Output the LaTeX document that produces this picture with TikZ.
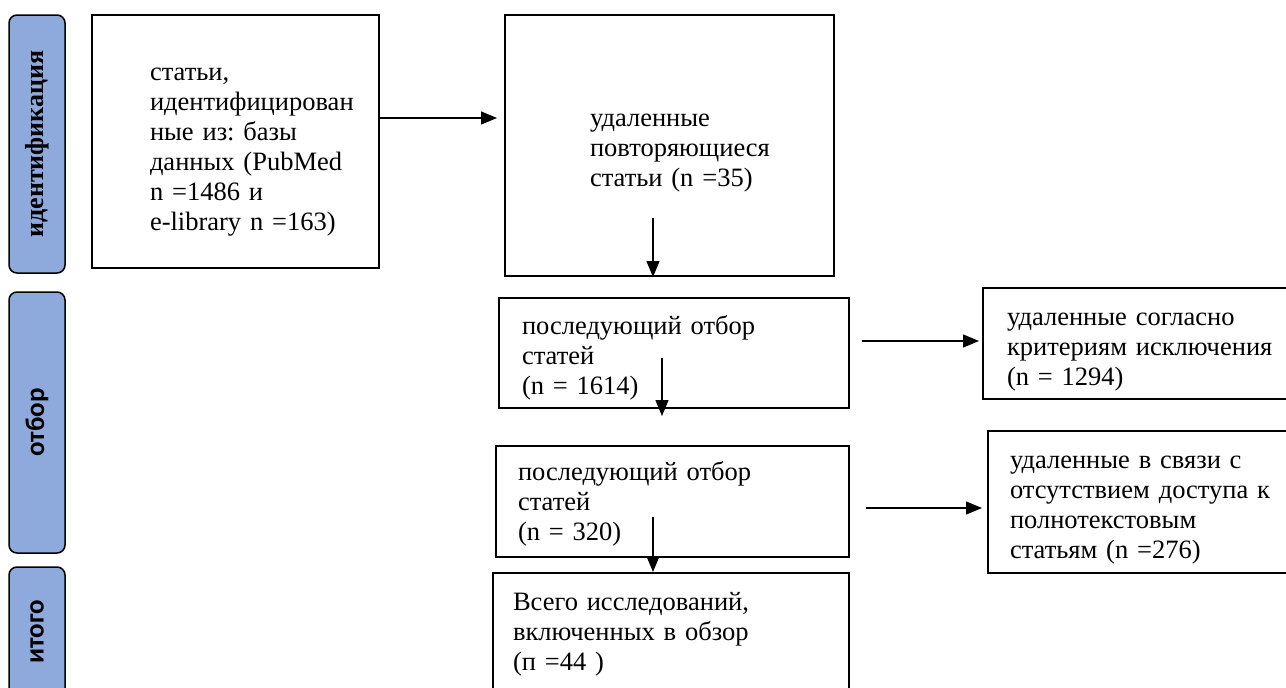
\documentclass[tikz,border=0pt]{standalone}
\usepackage{fontspec}
\setmainfont{Liberation Serif}
\newfontfamily\stageserif{Liberation Serif}
\newfontfamily\calib{Carlito}
\usetikzlibrary{arrows.meta}
\frenchspacing

\definecolor{stageblue}{HTML}{8EA9DB}
\newcommand{\lift}[1]{\rule{0pt}{#1pt}}

\begin{document}
\begin{tikzpicture}[x=1pt,y=-1pt,>={Triangle[length=16pt,width=13pt]},
  stage/.style={draw,line width=1.5pt,rounded corners=8pt,fill=stageblue,rotate=90,minimum height=56pt,inner sep=0pt},
  flowbox/.style={draw,line width=2pt,align=left,inner sep=0pt,font=\fontsize{26.5}{30}\selectfont},
  arrow/.style={->,line width=1.3pt}]
\useasboundingbox (0,0) rectangle (1286,688);
\clip (0,0) rectangle (1286,688);
% stage labels
\node[stage,minimum width=258pt,font=\stageserif\fontsize{26}{30}\selectfont\bfseries] (ident) at (37,144) {идентификация};
\node[stage,minimum width=261pt,font=\calib\fontsize{27}{30}\selectfont\bfseries] (select) at (37,422.5) {отбор};
\node[stage,minimum width=130pt,font=\calib\fontsize{27}{30}\selectfont\bfseries] (total) at (37,632) {итого};
% boxes
\node[flowbox,minimum width=287pt,minimum height=253pt,text width=171pt] (found) at (235.5,141.5) {\lift{34}статьи,\\идентифицирован\\ные~из:~базы\\данных~(PubMed\\n~=1486~и\\\mbox{e-library}~n~=163)};
\node[flowbox,minimum width=329pt,minimum height=261pt,text width=159pt] (dupl) at (669.5,145.5) {\lift{28}удаленные\\повторяющиеся\\статьи~(n~=35)};
\node[flowbox,minimum width=350pt,minimum height=110pt,text width=304pt] (screen1) at (674,353) {\lift{28}последующий~отбор\\статей\\(n~=~1614)};
\node[flowbox,minimum width=353pt,minimum height=111pt,text width=309pt] (screen2) at (672.5,501.5) {\lift{24}последующий~отбор\\статей\\(n~=~320)};
\node[flowbox,minimum width=356pt,minimum height=122pt,text width=316pt] (incl) at (671,634) {Всего~исследований,\\включенных~в~обзор\\(п~=44~)};
\node[flowbox,minimum width=307pt,minimum height=111pt,text width=259pt] (excl1) at (1136.5,343.5) {\lift{30}удаленные~согласно\\критериям~исключения\\(n~=~1294)};
\node[flowbox,minimum width=302pt,minimum height=142pt,text width=258pt] (excl2) at (1139,502) {\lift{28}удаленные~в~связи~с\\отсутствием~доступа~к\\полнотекстовым\\статьям~(n~=276)};
% arrows
\coordinate (a1) at (497,118);
\draw[arrow] (found.east |- a1) -- (a1);
\coordinate (d1) at (653,218);
\draw[arrow] (d1) -- (d1 |- dupl.south);
\coordinate (d2) at (662,358);
\draw[arrow] (d2) -- ([yshift=-7]d2 |- screen1.south);
\coordinate (d3) at (653,517);
\draw[arrow] (d3) -- (d3 |- incl.north);
\coordinate (r1) at (862,341);
\draw[arrow] (r1) -- ([xshift=-3]excl1.west |- r1);
\coordinate (r2) at (866,508);
\draw[arrow] (r2) -- ([xshift=-5]excl2.west |- r2);
\end{tikzpicture}
\end{document}
